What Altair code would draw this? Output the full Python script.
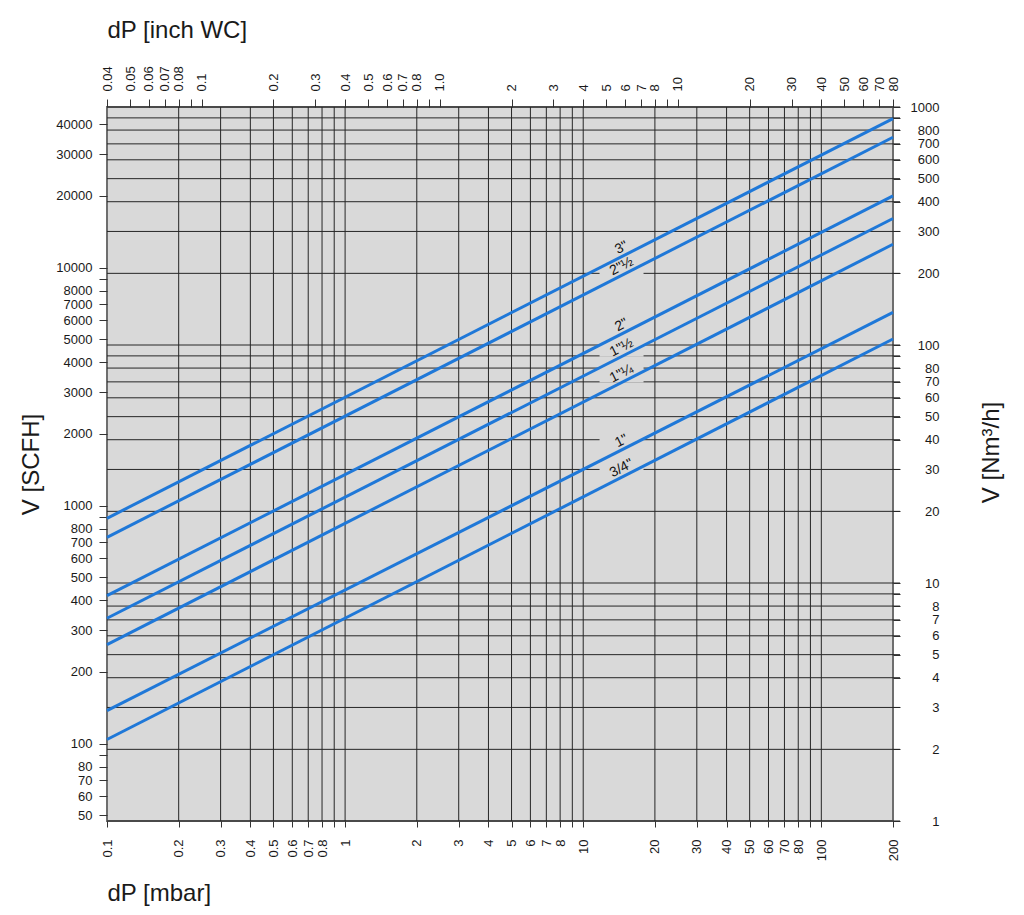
import altair as alt
import pandas as pd
import numpy as np

# ---------------- data ----------------
sizes = ['3"', '2"½', '2"', '1"½', '1"¼', '1"', '3/4"']
dp_ends = [0.1, 200]                                         # mbar
flow_at_low = [18.7, 15.56, 8.85, 7.11, 5.51, 2.91, 2.20]    # Nm3/h at 0.1 mbar
flow_at_high = [893, 746, 423, 340, 265, 137, 106]           # Nm3/h at 200 mbar

MBAR_PER_INWC = 2.5
SCFH_PER_NM3H = 47.3
label_dp = 15  # mbar, where the size labels sit

mbar_ticks = [0.1, 0.2, 0.3, 0.4, 0.5, 0.6, 0.7, 0.8, 0.9,
              1, 2, 3, 4, 5, 6, 7, 8, 9,
              10, 20, 30, 40, 50, 60, 70, 80, 90, 100, 200]
mbar_unlabeled = [0.9, 9, 90]
inwc_ticks = [0.04, 0.05, 0.06, 0.07, 0.08, 0.09, 0.1,
              0.2, 0.3, 0.4, 0.5, 0.6, 0.7, 0.8, 0.9, 1,
              2, 3, 4, 5, 6, 7, 8, 9, 10,
              20, 30, 40, 50, 60, 70, 80]
inwc_unlabeled = [0.09, 0.9, 9]
nm3_ticks = [1, 2, 3, 4, 5, 6, 7, 8, 9,
             10, 20, 30, 40, 50, 60, 70, 80, 90,
             100, 200, 300, 400, 500, 600, 700, 800, 900, 1000]
nm3_unlabeled = [9, 90, 900]
scfh_ticks = [50, 60, 70, 80, 90,
              100, 200, 300, 400, 500, 600, 700, 800, 900,
              1000, 2000, 3000, 4000, 5000, 6000, 7000, 8000, 9000,
              10000, 20000, 30000, 40000]
scfh_unlabeled = [90, 900, 9000]

# ---------------- tables ----------------
rows = []
for s, lo, hi in zip(sizes, flow_at_low, flow_at_high):
    rows.append({"size": s, "dp": dp_ends[0], "flow": lo})
    rows.append({"size": s, "dp": dp_ends[1], "flow": hi})
lines_df = pd.DataFrame(rows)
lines_df["inwc"] = lines_df["dp"] / MBAR_PER_INWC
lines_df["scfh"] = lines_df["flow"] * SCFH_PER_NM3H

lab = []
for s, lo, hi in zip(sizes, flow_at_low, flow_at_high):
    t = (np.log10(label_dp) - np.log10(dp_ends[0])) / (np.log10(dp_ends[1]) - np.log10(dp_ends[0]))
    f = 10 ** (np.log10(lo) + t * (np.log10(hi) - np.log10(lo)))
    lab.append({"size": s, "dp": label_dp, "flow": f})
labels_df = pd.DataFrame(lab)

vgrid_df = pd.DataFrame({"v": [v for v in mbar_ticks if dp_ends[0] < v < dp_ends[1]]})
hgrid_df = pd.DataFrame({"v": nm3_ticks})

W, H = 786, 714
FONT = "Liberation Sans"
BG = "#d9d9d9"
GRID = "#262626"
BLUE = "#1f78d8"

x_scale = alt.Scale(type="log", domain=dp_ends, nice=False)
y_scale = alt.Scale(type="log", domain=[nm3_ticks[0], nm3_ticks[-1]], nice=False)
x2_scale = alt.Scale(type="log", domain=[dp_ends[0] / MBAR_PER_INWC, dp_ends[1] / MBAR_PER_INWC], nice=False)
y2_scale = alt.Scale(type="log", domain=[nm3_ticks[0] * SCFH_PER_NM3H, nm3_ticks[-1] * SCFH_PER_NM3H], nice=False)


def hide_expr(hidden, special=""):
    arr = "[" + ",".join(repr(v) for v in hidden) + "]"
    base = f"indexof({arr}, datum.value) >= 0 ? '' : format(datum.value, '~g')"
    if special:
        return special + " : (" + base + ")"
    return base


common = dict(labelFont=FONT, labelFontSize=13, labelColor="#1a1a1a",
              tickColor="#333333", tickWidth=1, domain=False, grid=False,
              labelFlush=False, labelOverlap=False,
              titleFont=FONT, titleFontSize=24, titleFontWeight="normal",
              titleColor="#1a1a1a")

x_axis = alt.Axis(orient="bottom", values=mbar_ticks, labelExpr=hide_expr(mbar_unlabeled),
                  labelAngle=270, labelAlign="right", labelBaseline="middle",
                  tickSize=6, labelPadding=12,
                  title="dP [mbar]", titleX=0, titleY=79, titleAlign="left",
                  titleBaseline="alphabetic", titleAngle=0, **common)
y_axis = alt.Axis(orient="right", values=nm3_ticks, labelExpr=hide_expr(nm3_unlabeled),
                  labelAlign="right", labelBaseline="middle",
                  tickSize=7, labelPadding=39,
                  title="V [Nm³/h]", titleAngle=270, titleX=105, titleY=345,
                  titleAlign="center", titleBaseline="alphabetic", **common)
x2_axis = alt.Axis(orient="top", values=inwc_ticks,
                   labelExpr=hide_expr(inwc_unlabeled, "datum.value == 1 ? '1.0'"),
                   labelAngle=270, labelAlign="left", labelBaseline="middle",
                   tickSize=8, labelPadding=8,
                   title="dP [inch WC]", titleX=0, titleY=-70, titleAlign="left",
                   titleBaseline="alphabetic", titleAngle=0, **common)
y2_axis = alt.Axis(orient="left", values=scfh_ticks, labelExpr=hide_expr(scfh_unlabeled),
                   labelAlign="right", labelBaseline="middle",
                   tickSize=8, labelPadding=7,
                   title="V [SCFH]", titleAngle=270, titleX=-69, titleY=357,
                   titleAlign="center", titleBaseline="alphabetic", **common)

vgrid = alt.Chart(vgrid_df).mark_rule(color=GRID, strokeWidth=1).encode(
    x=alt.X("v:Q", scale=x_scale, axis=x_axis),
    y=alt.value(0), y2=alt.value(H),
)
hgrid = alt.Chart(hgrid_df).mark_rule(color=GRID, strokeWidth=1).encode(
    y=alt.Y("v:Q", scale=y_scale, axis=y_axis),
    x=alt.value(0), x2=alt.value(W + 7),
)
box_shape = "M-1.1,-0.45L1.1,-0.45L1.1,0.45L-1.1,0.45Z"
boxes = alt.Chart(labels_df).mark_point(
    shape=box_shape, size=1600, filled=True, color=BG, opacity=1,
    strokeWidth=0, xOffset=-3.6, yOffset=-7.1,
).encode(
    x=alt.X("dp:Q", scale=x_scale, axis=x_axis),
    y=alt.Y("flow:Q", scale=y_scale, axis=y_axis),
)
lines = alt.Chart(lines_df).mark_line(color=BLUE, strokeWidth=3).encode(
    x=alt.X("dp:Q", scale=x_scale, axis=x_axis),
    y=alt.Y("flow:Q", scale=y_scale, axis=y_axis),
    detail="size:N",
)
texts = alt.Chart(labels_df).mark_text(
    angle=333, dy=-8, font=FONT, fontSize=14, color="#111111",
    align="center", baseline="middle",
).encode(
    x=alt.X("dp:Q", scale=x_scale, axis=x_axis),
    y=alt.Y("flow:Q", scale=y_scale, axis=y_axis),
    text="size:N",
)
inner = alt.layer(vgrid, hgrid, boxes, lines, texts)

hidden = alt.Chart(lines_df).mark_line(opacity=0).encode(
    x=alt.X("inwc:Q", scale=x2_scale, axis=x2_axis),
    y=alt.Y("scfh:Q", scale=y2_scale, axis=y2_axis),
    detail="size:N",
)

chart = alt.layer(inner, hidden).resolve_scale(
    x="independent", y="independent"
).properties(
    width=W, height=H,
    background="white",
    padding={"left": 99, "top": 99, "right": 117, "bottom": 86},
    autosize=alt.AutoSizeParams(type="none"),
).configure_view(
    fill=BG, stroke="#6e6e6e", strokeWidth=2
)

chart.save("out.html", embed_options={"renderer": "svg", "actions": False})
